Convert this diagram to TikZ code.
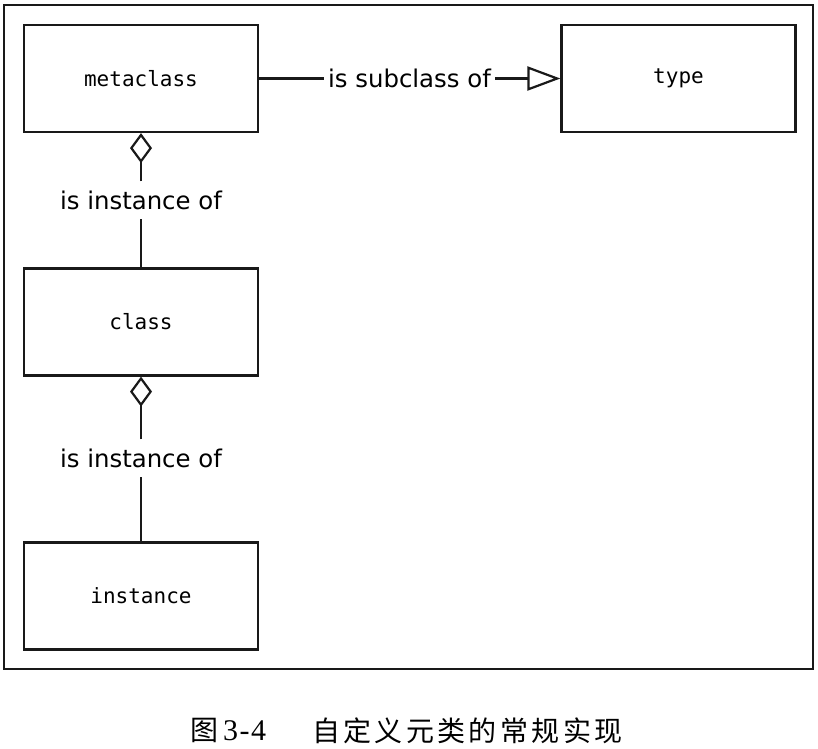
\documentclass[tikz,border=0pt]{standalone}
\usepackage{fontspec}
\newfontfamily\labelfont{DejaVu Sans}
\newfontfamily\codefont{DejaVu Sans Mono}
\newfontfamily\cjkfont[LetterSpace=12]{Noto Sans CJK SC}
\newfontfamily\numfont[LetterSpace=5]{Liberation Serif}
\usetikzlibrary{arrows.meta}
\tikzset{
	classbox/.style={rectangle, draw=black!90, line width=2.2pt, minimum width=234pt, minimum height=107pt, inner sep=0pt, font=\codefont\fontsize{21}{25}\selectfont},
	relnode/.style={inner xsep=4pt, inner ysep=9pt, font=\labelfont\fontsize{24.4}{29}\selectfont},
	relline/.style={draw=black!90, line width=2.2pt},
	captionnode/.style={inner sep=0pt, anchor=west, font=\fontsize{28}{32}\selectfont}
}

\begin{document}
\begin{tikzpicture}[x=1pt, y=-1pt]
		\useasboundingbox (0,0) rectangle (818,748);
		\draw[draw=black!90, line width=1.6pt] (4,5) rectangle (813,669);
		
		\node[classbox] at (141,78.5) (meta)  {metaclass};
		\node[classbox] at (678.5,78.5) (type)  {type};
		\node[classbox] at (141,322) (cls)  {class};
		\node[classbox] at (141,596) (inst)  {instance};
		
		\node[relnode] at (409.5,78.5) (sub)  {is subclass of};
		\node[relnode] at (141,200) (metainst)  {is instance of};
		\node[relnode] at (141,458) (clsinst)  {is instance of};
		
		\draw[relline] (meta) -- (sub);
		\draw[relline, -{Triangle[open, length=33pt, width=24pt]}] (sub) -- (type);
		\draw[relline] (cls) -- (metainst);
		\draw[relline, -{Diamond[open, length=30pt, width=22pt]}] (metainst) -- (meta);
		\draw[relline] (inst) -- (clsinst);
		\draw[relline, -{Diamond[open, length=30pt, width=22pt]}] (clsinst) -- (cls);
		
		\node[captionnode] at (190,730.5) (capnum)  {{\cjkfont 图}\hspace{5pt}{\fontsize{30}{32}\numfont 3-4}};
		\node[captionnode] at (312,730.5) (captitle)  {\cjkfont 自定义元类的常规实现};
	\end{tikzpicture}
\end{document}
